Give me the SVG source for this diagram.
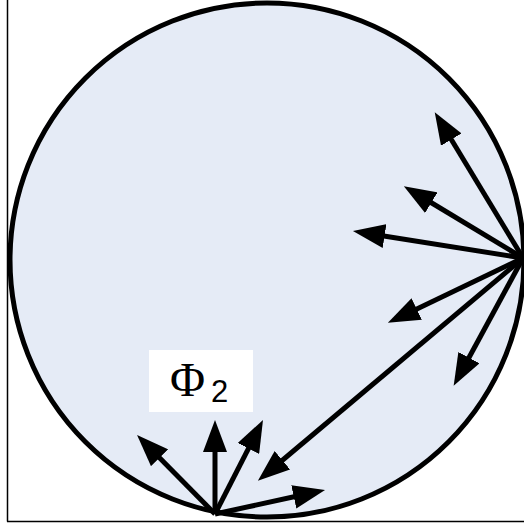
<svg xmlns="http://www.w3.org/2000/svg" width="524" height="525" viewBox="0 0 524 525">
<style>
.arr{stroke:#000;stroke-width:5;fill:none;marker-end:url(#ah)}
.frame{stroke:#000;stroke-width:1.5;fill:none}
</style>
<defs>
<marker id="ah" markerUnits="userSpaceOnUse" markerWidth="32" markerHeight="24" refX="12" refY="12" orient="auto" viewBox="0 0 32 24">
<path d="M0,0 L32,12 L0,24 z" fill="#000"/>
</marker>
</defs>
<rect width="524" height="525" fill="#fff"/>
<g id="frame">
<line class="frame" x1="7.5" y1="0" x2="7.5" y2="521.5"/>
<line class="frame" x1="7" y1="521.5" x2="524" y2="521.5"/>
</g>
<g id="circle">
<circle cx="267" cy="260" r="257" fill="#e5ebf6" stroke="#000" stroke-width="5"/>
</g>
<g id="label">
<rect x="149" y="350" width="104" height="62" fill="#fff"/>
<text x="170" y="396" font-family="Liberation Serif, serif" font-size="48" fill="#000">Φ</text>
<text x="211" y="402" font-family="Liberation Sans, sans-serif" font-size="31" fill="#000">2</text>
</g>
<g id="connectors">
<line class="arr" x1="523" y1="258" x2="445.1" y2="129.3"/>
<line class="arr" x1="523" y1="258" x2="421" y2="196.5"/>
<line class="arr" x1="523" y1="258" x2="372.7" y2="234.2"/>
<line class="arr" x1="523" y1="258" x2="405.9" y2="314.2"/>
<line class="arr" x1="523" y1="258" x2="463.2" y2="368.2"/>
<line class="arr" x1="523" y1="258" x2="273.2" y2="468"/>
<line class="arr" x1="215" y1="514" x2="151.1" y2="449.2"/>
<line class="arr" x1="215" y1="514" x2="215" y2="440"/>
<line class="arr" x1="215" y1="514" x2="253.9" y2="437.8"/>
<line class="arr" x1="215" y1="514" x2="305.5" y2="494.3"/>
</g>
</svg>
